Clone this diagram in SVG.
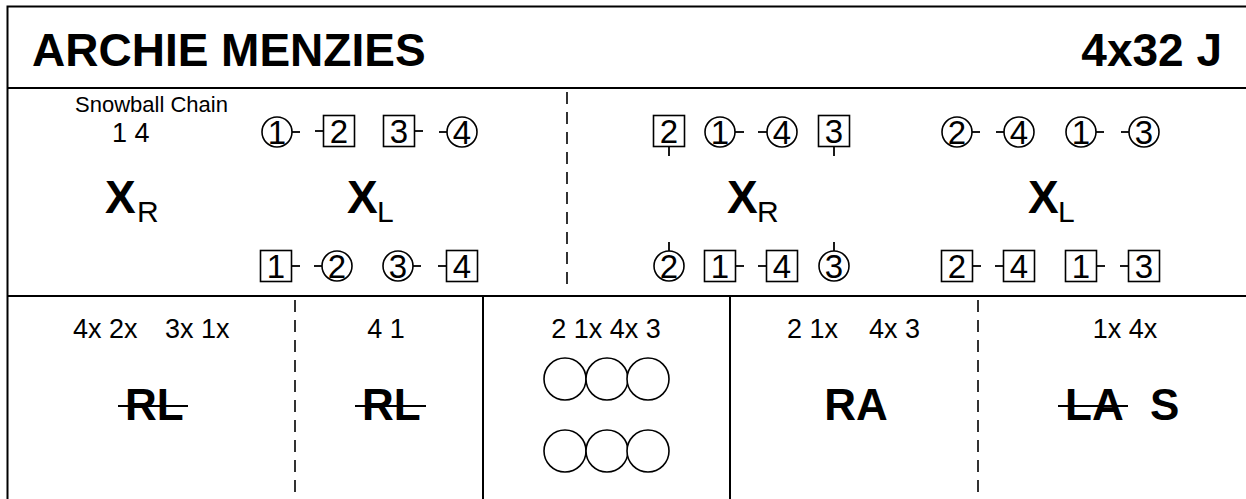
<svg xmlns="http://www.w3.org/2000/svg" width="1246" height="499" viewBox="0 0 1246 499">
<style>
text{font-family:"Liberation Sans",Arial,Helvetica,sans-serif;fill:#000}
.title{font-size:46px;font-weight:bold}
.small{font-size:22px}
.num{font-size:27px}
.dig{font-size:33px;text-anchor:middle}
.bx{font-size:46px;font-weight:bold}
.sub{font-size:30px}
.big{font-size:44px;font-weight:bold}
.frame{fill:none;stroke:#000;stroke-width:2}
.dash{stroke:#000;stroke-width:1.6;stroke-dasharray:12 8;fill:none}
.sh{fill:#fff;stroke:#000;stroke-width:1.6}
.tick{stroke:#000;stroke-width:1.8}
.strike{stroke:#000;stroke-width:2.2}
</style>
<defs>
<circle id="c" r="15" class="sh"/>
<rect id="s" x="-15.5" y="-15.5" width="31" height="31" class="sh"/>
</defs>
<rect x="0" y="0" width="1246" height="499" fill="#fff"/>
<g id="frame">
<rect class="frame" x="7.5" y="6.5" width="1250" height="510"/>
<line class="frame" x1="7.5" y1="88" x2="1246" y2="88"/>
<line class="frame" x1="7.5" y1="296" x2="1246" y2="296"/>
<line class="dash" x1="567" y1="92" x2="567" y2="292"/>
<line class="dash" x1="295" y1="300" x2="295" y2="499"/>
<line class="dash" x1="978" y1="300" x2="978" y2="499"/>
<line class="frame" x1="483" y1="296" x2="483" y2="499"/>
<line class="frame" x1="730" y1="296" x2="730" y2="499"/>
</g>
<g id="header">
<text class="title" x="32" y="66">ARCHIE MENZIES</text>
<text class="title" x="1222" y="66" text-anchor="end">4x32 J</text>
</g>
<g id="fig1">
<text class="small" x="75" y="112">Snowball Chain</text>
<text class="num" x="112" y="142">1 4</text>
<text class="bx" x="105" y="213">X</text><text class="sub" x="137" y="222">R</text>
<text class="bx" x="347" y="213">X</text><text class="sub" x="377" y="222">L</text>
</g>
<g id="fig1-dancers">
<use href="#c" x="277" y="132"/><text class="dig" x="277" y="144">1</text>
<use href="#s" x="339" y="131"/><text class="dig" x="339" y="143">2</text>
<use href="#s" x="399" y="131"/><text class="dig" x="399" y="143">3</text>
<use href="#c" x="462" y="132"/><text class="dig" x="462" y="144">4</text>
<use href="#s" x="276" y="266"/><text class="dig" x="276" y="278">1</text>
<use href="#c" x="337" y="266"/><text class="dig" x="337" y="278">2</text>
<use href="#c" x="398" y="266"/><text class="dig" x="398" y="278">3</text>
<use href="#s" x="462" y="266"/><text class="dig" x="462" y="278">4</text>
</g>
<g id="fig2">
<text class="bx" x="727" y="213">X</text><text class="sub" x="757" y="222">R</text>
<use href="#s" x="669" y="131"/><text class="dig" x="669" y="143">2</text>
<use href="#c" x="720" y="132"/><text class="dig" x="720" y="144">1</text>
<use href="#c" x="782" y="132"/><text class="dig" x="782" y="144">4</text>
<use href="#s" x="834" y="131"/><text class="dig" x="834" y="143">3</text>
<use href="#c" x="669" y="266"/><text class="dig" x="669" y="278">2</text>
<use href="#s" x="720" y="266"/><text class="dig" x="720" y="278">1</text>
<use href="#s" x="782" y="266"/><text class="dig" x="782" y="278">4</text>
<use href="#c" x="834" y="266"/><text class="dig" x="834" y="278">3</text>
</g>
<g id="fig3">
<text class="bx" x="1028" y="213">X</text><text class="sub" x="1058" y="222">L</text>
<use href="#c" x="957" y="132"/><text class="dig" x="957" y="144">2</text>
<use href="#c" x="1019" y="132"/><text class="dig" x="1019" y="144">4</text>
<use href="#c" x="1081" y="132"/><text class="dig" x="1081" y="144">1</text>
<use href="#c" x="1144" y="132"/><text class="dig" x="1144" y="144">3</text>
<use href="#s" x="957" y="266"/><text class="dig" x="957" y="278">2</text>
<use href="#s" x="1019" y="266"/><text class="dig" x="1019" y="278">4</text>
<use href="#s" x="1081" y="266"/><text class="dig" x="1081" y="278">1</text>
<use href="#s" x="1144" y="266"/><text class="dig" x="1144" y="278">3</text>
</g>
<g id="connectors">
<line class="tick" x1="292" y1="132" x2="300" y2="132"/>
<line class="tick" x1="315" y1="131" x2="323.5" y2="131"/>
<line class="tick" x1="414.5" y1="131" x2="423" y2="131"/>
<line class="tick" x1="439" y1="132" x2="447" y2="132"/>
<line class="tick" x1="291.5" y1="266" x2="300" y2="266"/>
<line class="tick" x1="314" y1="266" x2="322" y2="266"/>
<line class="tick" x1="413" y1="266" x2="421" y2="266"/>
<line class="tick" x1="438" y1="266" x2="446.5" y2="266"/>
<line class="tick" x1="669" y1="146.5" x2="669" y2="156"/>
<line class="tick" x1="834" y1="146.5" x2="834" y2="156"/>
<line class="tick" x1="735" y1="132" x2="744" y2="132"/>
<line class="tick" x1="758" y1="132" x2="767" y2="132"/>
<line class="tick" x1="669" y1="242" x2="669" y2="251"/>
<line class="tick" x1="834" y1="242" x2="834" y2="251"/>
<line class="tick" x1="735.5" y1="266" x2="744" y2="266"/>
<line class="tick" x1="758" y1="266" x2="766.5" y2="266"/>
<line class="tick" x1="972" y1="132" x2="980" y2="132"/>
<line class="tick" x1="996" y1="132" x2="1004" y2="132"/>
<line class="tick" x1="1096" y1="132" x2="1104" y2="132"/>
<line class="tick" x1="1121" y1="132" x2="1129" y2="132"/>
<line class="tick" x1="972.5" y1="266" x2="981" y2="266"/>
<line class="tick" x1="995" y1="266" x2="1003.5" y2="266"/>
<line class="tick" x1="1096.5" y1="266" x2="1105" y2="266"/>
<line class="tick" x1="1120" y1="266" x2="1128.5" y2="266"/>
</g>
<g id="bar1">
<text class="num" x="73" y="338">4x 2x</text>
<text class="num" x="165" y="338">3x 1x</text>
<text class="big" x="125" y="420">RL</text>
<line class="strike" x1="118" y1="406" x2="188" y2="406"/>
</g>
<g id="bar2">
<text class="num" x="386" y="338" text-anchor="middle">4 1</text>
<text class="big" x="362" y="420">RL</text>
<line class="strike" x1="355" y1="406" x2="426" y2="406"/>
</g>
<g id="bar3">
<text class="num" x="606" y="338" text-anchor="middle">2 1x 4x 3</text>
<circle class="sh" cx="565" cy="379" r="21"/>
<circle class="sh" cx="607" cy="379" r="21"/>
<circle class="sh" cx="648" cy="379" r="21"/>
<circle class="sh" cx="565" cy="451" r="21"/>
<circle class="sh" cx="607" cy="451" r="21"/>
<circle class="sh" cx="648" cy="451" r="21"/>
</g>
<g id="bar4">
<text class="num" x="787" y="338">2 1x</text>
<text class="num" x="920" y="338" text-anchor="end">4x 3</text>
<text class="big" x="856" y="420" text-anchor="middle">RA</text>
</g>
<g id="bar5">
<text class="num" x="1125" y="338" text-anchor="middle">1x 4x</text>
<text class="big" x="1065" y="420">LA</text>
<line class="strike" x1="1058" y1="406" x2="1128" y2="406"/>
<text class="big" x="1150" y="420">S</text>
</g>
</svg>
